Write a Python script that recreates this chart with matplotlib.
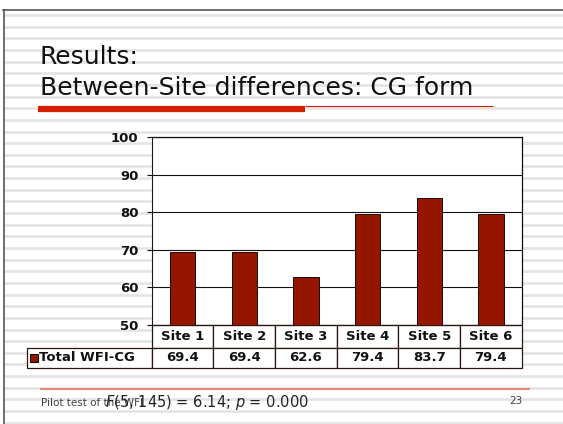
import matplotlib
matplotlib.use('Agg')
import matplotlib.pyplot as plt
from matplotlib.patches import Rectangle

# Data
sites = ['Site 1', 'Site 2', 'Site 3', 'Site 4', 'Site 5', 'Site 6']
wfi_cg = [69.4, 69.4, 62.6, 79.4, 83.7, 79.4]
series_name = 'Total WFI-CG'
y_ticks = [50, 60, 70, 80, 90, 100]

title_lines = ['Results:', 'Between-Site differences: CG form']
footer_left = 'Pilot test of the WFI'
footer_stat = r'$F$(5, 145) = 6.14; $p$ = 0.000'
slide_number = '23'

bar_color = '#951600'
edge_color = '#2a1510'

W, H = 563, 424
fig = plt.figure(figsize=(W / 100, H / 100), dpi=100)
fig.patch.set_facecolor('white')

# Background axes in pixel coordinates for the slide decoration
bg = fig.add_axes([0, 0, 1, 1], zorder=0)
bg.set_xlim(0, W)
bg.set_ylim(H, 0)
bg.axis('off')

# Horizontal stripes of the slide template
y = 15.0
while y < H:
    bg.plot([4, W], [y, y], color='#e4e4e4', linewidth=1.9, solid_capstyle='butt')
    y += 11.65

# Slide border (top and left)
bg.plot([3, W], [9.5, 9.5], color='#555555', linewidth=1.2)
bg.plot([3.5, 3.5], [9.5, H], color='#555555', linewidth=1.2)

# Title
bg.text(40, 64, title_lines[0], fontsize=18, color='#111111', va='baseline')
bg.text(40, 95, title_lines[1], fontsize=18, color='#111111', va='baseline')

# Red underline: thick then thin
bg.plot([38, 305], [108.5, 108.5], color='#d42000', linewidth=4.5, solid_capstyle='butt')
bg.plot([305, 493], [105.5, 105.5], color='#d42000', linewidth=0.8, solid_capstyle='butt')

# Footer
bg.plot([41, 529], [389, 389], color='#e77c6a', linewidth=1.3)
bg.text(41, 402.5, footer_left, fontsize=7.5, color='#404040', va='center')
bg.text(105, 402, footer_stat, fontsize=10.5, color='#222222', va='center')
bg.text(523, 401.5, slide_number, fontsize=7.5, color='#404040', va='center', ha='right')

# Chart axes
left_px, right_px, top_px, bottom_px = 151.7, 521.7, 137.3, 324.5
ax = fig.add_axes([left_px / W, 1 - bottom_px / H,
                   (right_px - left_px) / W, (bottom_px - top_px) / H], zorder=1)
ax.set_facecolor('white')

x = list(range(len(sites)))
ax.bar(x, wfi_cg, width=0.41, color=bar_color, edgecolor='#1a0a05', linewidth=0.7, zorder=3)
ax.set_xlim(-0.5, len(sites) - 0.5)
ax.set_ylim(y_ticks[0], y_ticks[-1])
ax.set_yticks(y_ticks)
ax.set_yticklabels([str(t) for t in y_ticks], fontsize=9.5, fontweight='bold')
ax.tick_params(axis='y', length=3.6, width=0.8, pad=6.0, colors='#111111')
ax.set_xticks([])
ax.yaxis.grid(True, color='#111111', linewidth=0.8)
ax.set_axisbelow(True)
for side in ['top', 'right']:
    ax.spines[side].set_color('#111111')
    ax.spines[side].set_linewidth(0.9)
ax.spines['left'].set_color(edge_color)
ax.spines['bottom'].set_color(edge_color)

# Data table under the chart (bbox covers the data columns only,
# the row label cell sits to the left of it)
plot_h = bottom_px - top_px
row_h = [23.0 / plot_h, 20.5 / plot_h]
label_w = (left_px - 27) / (right_px - left_px)
col_w = 1.0 / len(sites)

table = ax.table(cellText=[[f'{v:.1f}' for v in wfi_cg]], colLabels=sites,
                 cellLoc='center', colLoc='center', colWidths=[col_w] * len(sites),
                 bbox=[0, -(row_h[0] + row_h[1]), 1, row_h[0] + row_h[1]])
table.add_cell(1, -1, width=label_w, height=row_h[1], text=series_name, loc='left')
table.auto_set_font_size(False)
table.set_fontsize(9.5)
for (r, c), cell in table.get_celld().items():
    cell.set_height(row_h[r])
    cell.set_edgecolor(edge_color)
    cell.set_linewidth(0.9)
    cell.set_facecolor('white')
    cell.get_text().set_fontweight('bold')
    cell.get_text().set_color('#111111')

# Legend key square in the row label cell
ax.add_patch(Rectangle((30, 362), 8, -8, transform=bg.transData, clip_on=False,
                       facecolor=bar_color, edgecolor='#111111', linewidth=0.8, zorder=10))

fig.savefig('out.png', dpi=100)
